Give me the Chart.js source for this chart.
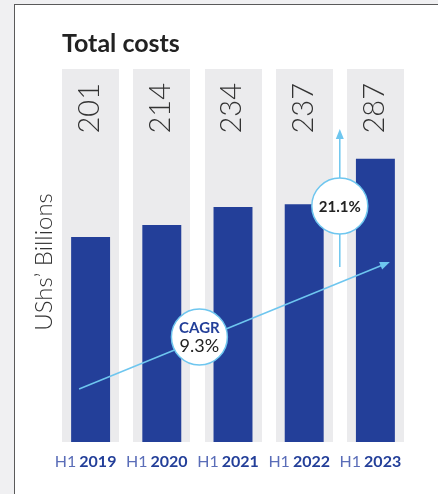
<!DOCTYPE html>
<html>
<head>
<meta charset="utf-8">
<script src="https://cdn.jsdelivr.net/npm/chart.js@4"></script>
<style>
  html, body { margin: 0; padding: 0; background: #f0f0f2; }
  body { width: 438px; height: 494px; overflow: hidden; position: relative; }
  #panel { position: absolute; left: 14px; top: 4px; width: 430px; height: 500px;
           background: #ffffff; border-left: 1.5px solid #5a5a5a; border-top: 1.5px solid #5a5a5a; }
  #c { position: absolute; left: 0; top: 0; }
</style>
</head>
<body>
<div id="panel"></div>
<canvas id="c" width="438" height="494"></canvas>
<script>
const periods = ["H1", "H1", "H1", "H1", "H1"];
const years = ["2019", "2020", "2021", "2022", "2023"];
const totalCosts = [201, 214, 234, 237, 287];
const valueLabels = ["201", "214", "234", "237", "287"];
const chartTitle = "Total costs";
const yAxisTitle = "UShs\u2019 Billions";
const cagrText = ["CAGR", "9.3%"];
const growthText = "21.1%";
const yMin = -25, yMax = 386;

const BLUE = "#233f99";
const TRACK = "#ebebed";
const ARROW = "#6ec6ef";

function arrowHead(ctx, x1, y1, x2, y2, len, wid) {
  const a = Math.atan2(y2 - y1, x2 - x1);
  ctx.beginPath();
  ctx.moveTo(x2, y2);
  ctx.lineTo(x2 - len * Math.cos(a) + wid * Math.sin(a), y2 - len * Math.sin(a) - wid * Math.cos(a));
  ctx.lineTo(x2 - len * Math.cos(a) - wid * Math.sin(a), y2 - len * Math.sin(a) + wid * Math.cos(a));
  ctx.closePath();
  ctx.fill();
}

const decor = {
  id: "decor",
  beforeDatasetsDraw(chart) {
    const ctx = chart.ctx, xs = chart.scales.x, area = chart.chartArea;
    const step = xs.getPixelForValue(1) - xs.getPixelForValue(0);
    ctx.save();
    ctx.fillStyle = TRACK;
    years.forEach((y, i) => {
      const cx = xs.getPixelForValue(i);
      const w = step * 0.8;
      ctx.fillRect(Math.round(cx - w / 2), area.top, Math.round(w), area.bottom - area.top);
    });
    ctx.restore();
  },
  afterDatasetsDraw(chart) {
    const ctx = chart.ctx, xs = chart.scales.x, area = chart.chartArea;
    ctx.save();
    // title
    ctx.fillStyle = "#222";
    ctx.font = "bold 25px Lato";
    ctx.textAlign = "left";
    ctx.textBaseline = "alphabetic";
    ctx.fillText(chartTitle, 62, 52);

    // value labels rotated
    ctx.fillStyle = "#333";
    ctx.font = "300 29px Lato";
    valueLabels.forEach((t, i) => {
      const cx = xs.getPixelForValue(i);
      ctx.save();
      ctx.translate(cx - 1, area.top + 14);
      ctx.rotate(-Math.PI / 2);
      ctx.textAlign = "right";
      ctx.textBaseline = "middle";
      ctx.fillText(t, 0, 0);
      ctx.restore();
    });

    // y axis title
    ctx.save();
    ctx.translate(44, 262);
    ctx.rotate(-Math.PI / 2);
    ctx.textAlign = "center";
    ctx.textBaseline = "middle";
    ctx.font = "300 24px Lato";
    ctx.fillStyle = "#333";
    ctx.fillText(yAxisTitle, 0, 0);
    ctx.restore();

    // x labels
    ctx.textBaseline = "middle";
    years.forEach((y, i) => {
      const cx = xs.getPixelForValue(i) - 5;
      ctx.font = "16px Lato";
      const w1 = ctx.measureText(periods[i]).width;
      ctx.font = "bold 16px Lato";
      const w2 = ctx.measureText(y).width;
      const gap = 3;
      const x0 = cx - (w1 + gap + w2) / 2;
      ctx.textAlign = "left";
      ctx.font = "16px Lato";
      ctx.fillStyle = "#5a6db8";
      ctx.fillText(periods[i], x0, 462);
      ctx.font = "bold 16px Lato";
      ctx.fillStyle = BLUE;
      ctx.fillText(y, x0 + w1 + gap, 462);
    });

    // CAGR arrow
    const x0 = xs.getPixelForValue(0), x4 = xs.getPixelForValue(4);
    const sx = x0 - 11.5, sy = 389, ex = x4 + 14.5, ey = 262;
    ctx.strokeStyle = ARROW;
    ctx.fillStyle = ARROW;
    ctx.lineWidth = 1.5;
    ctx.beginPath();
    ctx.moveTo(sx, sy);
    ctx.lineTo(ex - 6, ey + 2.5);
    ctx.stroke();
    arrowHead(ctx, sx, sy, ex, ey, 10, 4);

    // vertical arrow
    const vx = (xs.getPixelForValue(3) + xs.getPixelForValue(4)) / 2;
    ctx.beginPath();
    ctx.moveTo(vx, 267);
    ctx.lineTo(vx, 138);
    ctx.stroke();
    arrowHead(ctx, vx, 267, vx, 129, 10, 4);

    // circles
    function bubble(cx, cy) {
      ctx.beginPath();
      ctx.arc(cx, cy, 28, 0, Math.PI * 2);
      ctx.fillStyle = "#fff";
      ctx.fill();
      ctx.lineWidth = 1.5;
      ctx.strokeStyle = ARROW;
      ctx.stroke();
    }
    bubble(vx, 206);
    ctx.textAlign = "center";
    ctx.textBaseline = "middle";
    ctx.fillStyle = "#222";
    ctx.font = "bold 15px Lato";
    ctx.fillText(growthText, vx, 207);

    const bx = (xs.getPixelForValue(1) + xs.getPixelForValue(2)) / 2 + 2;
    bubble(bx, 337);
    ctx.fillStyle = BLUE;
    ctx.font = "bold 15px Lato";
    ctx.fillText(cagrText[0], bx, 328);
    ctx.fillStyle = "#222";
    ctx.font = "18px Lato";
    ctx.fillText(cagrText[1], bx, 346);
    ctx.restore();
  }
};

new Chart(document.getElementById("c"), {
  type: "bar",
  data: {
    labels: years,
    datasets: [{
      data: totalCosts,
      base: yMin,
      backgroundColor: BLUE,
      borderWidth: 0,
      barPercentage: 0.547,
      categoryPercentage: 1
    }]
  },
  options: {
    responsive: false,
    animation: false,
    events: [],
    layout: { padding: { left: 55, right: 27, top: 69, bottom: 52 } },
    plugins: { legend: { display: false }, tooltip: { enabled: false }, title: { display: false } },
    scales: {
      x: { display: false, offset: true },
      y: { display: false, min: yMin, max: yMax }
    }
  },
  plugins: [decor]
});
</script>
</body>
</html>
